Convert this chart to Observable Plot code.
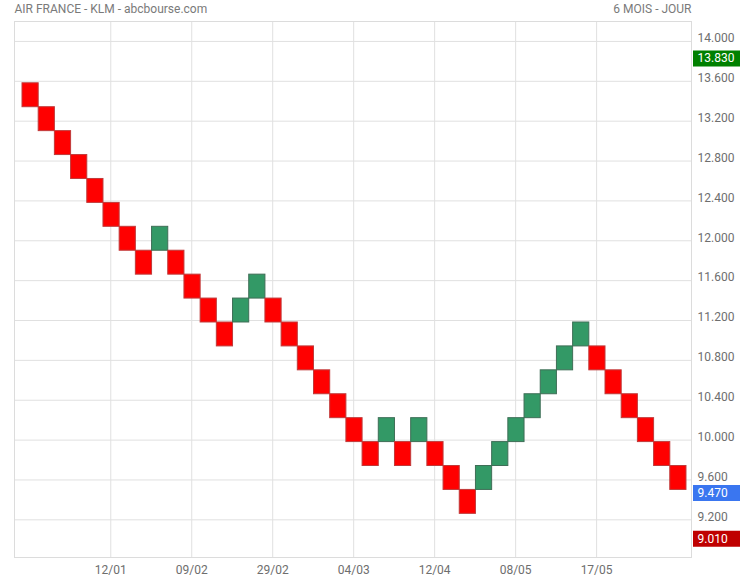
<!DOCTYPE html>
<html>
<head>
<meta charset="utf-8">
<script src="https://cdn.jsdelivr.net/npm/d3@7"></script>
<script src="https://cdn.jsdelivr.net/npm/@observablehq/plot@0.6"></script>
<style>
  html, body { margin: 0; padding: 0; background: #fff; }
</style>
</head>
<body>
<div id="chart"></div>
<script>
// Renko bricks (brick size 0.24): bottom value of each brick and its direction
const brickSize = 0.24;
const brickBottom = [
  13.34, 13.10, 12.86, 12.62, 12.38, 12.14, 11.90, 11.66, 11.90, 11.66,
  11.42, 11.18, 10.94, 11.18, 11.42, 11.18, 10.94, 10.70, 10.46, 10.22,
  9.98, 9.74, 9.98, 9.74, 9.98, 9.74, 9.50, 9.26, 9.50, 9.74,
  9.98, 10.22, 10.46, 10.70, 10.94, 10.70, 10.46, 10.22, 9.98, 9.74,
  9.50
];
const brickDir = [
  "down","down","down","down","down","down","down","down","up","down",
  "down","down","down","up","up","down","down","down","down","down",
  "down","down","up","down","up","down","down","down","up","up",
  "up","up","up","up","up","down","down","down","down","down",
  "down"
];

// X axis: date labels placed at brick positions
const xTickPos = [5.45, 10.45, 15.45, 20.45, 25.45, 30.45, 35.45];
const xTickLabels = ["12/01", "09/02", "29/02", "04/03", "12/04", "08/05", "17/05"];

// Y axis ticks
const yTicks = [9.2, 9.6, 10.0, 10.4, 10.8, 11.2, 11.6, 12.0, 12.4, 12.8, 13.2, 13.6, 14.0];

// Price badges on the right
const badgeValues = [13.83, 9.47, 9.01];
const badgeColors = ["#008000", "#3a76f0", "#bf0000"];

const title = "AIR FRANCE - KLM - abcbourse.com";
const period = "6 MOIS - JOUR";

const fillOf = {up: "#339966", down: "#ff0000"};
const strokeOf = {up: "#3f6e57", down: "#c03a3a"};

const bricks = brickBottom.map((b, i) => ({
  i, lo: b, hi: +(b + brickSize).toFixed(2), dir: brickDir[i]
}));
const xTicks = xTickPos.map((p, k) => ({p, label: xTickLabels[k]}));
const badges = badgeValues.map((v, k) => ({v, color: badgeColors[k]}));

const chart = Plot.plot({
  width: 740,
  height: 580,
  marginTop: 21,
  marginLeft: 14,
  marginRight: 49,
  marginBottom: 23,
  style: {fontFamily: "Roboto, sans-serif", fontSize: "12px", color: "#6e6e6e", background: "#fff"},
  x: {domain: [-0.494, 41.31], axis: null},
  y: {domain: [8.822, 14.2], axis: null},
  color: {type: "identity"},
  marks: [
    Plot.ruleY(yTicks, {stroke: "#e0e0e0", strokeWidth: 1}),
    Plot.ruleX(xTicks, {x: "p", stroke: "#e0e0e0", strokeWidth: 1}),
    Plot.frame({stroke: "#dcdcdc"}),
    Plot.rect(bricks, {
      x1: "i", x2: d => d.i + 1, y1: "lo", y2: "hi",
      fill: d => fillOf[d.dir], stroke: d => strokeOf[d.dir], strokeWidth: 1
    }),
    Plot.axisY({
      anchor: "right", ticks: yTicks, tickSize: 0, tickPadding: 6,
      tickFormat: d3.format(".3f"), dy: -3, label: null, fill: "#6e6e6e"
    }),
    Plot.text(xTicks, {
      x: "p", text: "label", frameAnchor: "bottom", lineAnchor: "top",
      dy: 8, fill: "#6e6e6e"
    }),
    Plot.ruleY(badges, {
      y: "v", stroke: "color", strokeWidth: 16, insetLeft: 679, insetRight: -49
    }),
    Plot.text(badges, {
      y: "v", text: d => d3.format(".3f")(d.v), frameAnchor: "right",
      textAnchor: "start", dx: 6, fill: "white"
    }),
    Plot.text([title], {
      text: d => d, frameAnchor: "top-left", textAnchor: "start",
      lineAnchor: "bottom", dy: -8.5, fill: "#7a7a7a"
    }),
    Plot.text([period], {
      text: d => d, frameAnchor: "top-right", textAnchor: "end",
      lineAnchor: "bottom", dy: -8.5, fill: "#7a7a7a"
    })
  ]
});
document.getElementById("chart").appendChild(chart);
</script>
</body>
</html>
